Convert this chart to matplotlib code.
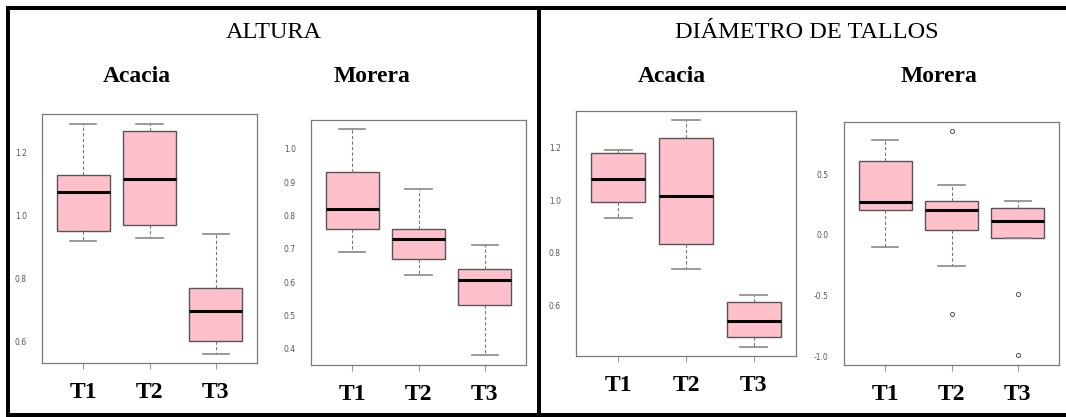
import matplotlib
matplotlib.use("Agg")
import matplotlib.pyplot as plt
from matplotlib.lines import Line2D

# ---------------- data (five-number summaries: low whisker, Q1, median, Q3, high whisker)
categories = ["T1", "T2", "T3"]

altura_acacia = [
    [0.92, 0.95, 1.075, 1.13, 1.29],
    [0.93, 0.97, 1.115, 1.27, 1.29],
    [0.56, 0.60, 0.695, 0.77, 0.94],
]
altura_acacia_fliers = [[], [], []]

altura_morera = [
    [0.69, 0.76, 0.82, 0.93, 1.06],
    [0.62, 0.67, 0.73, 0.76, 0.88],
    [0.38, 0.53, 0.605, 0.64, 0.71],
]
altura_morera_fliers = [[], [], []]

diam_acacia = [
    [0.93, 0.993, 1.081, 1.18, 1.192],
    [0.736, 0.833, 1.015, 1.237, 1.304],
    [0.441, 0.479, 0.540, 0.613, 0.640],
]
diam_acacia_fliers = [[], [], []]

diam_morera = [
    [-0.101, 0.200, 0.271, 0.611, 0.784],
    [-0.258, 0.041, 0.200, 0.282, 0.409],
    [-0.030, -0.030, 0.110, 0.219, 0.277],
]
diam_morera_fliers = [[], [0.858, -0.655], [-0.483, -0.987]]

altura_acacia_ticks = [0.6, 0.8, 1.0, 1.2]
altura_morera_ticks = [0.4, 0.5, 0.6, 0.7, 0.8, 0.9, 1.0]
diam_acacia_ticks = [0.6, 0.8, 1.0, 1.2]
diam_morera_ticks = [-1.0, -0.5, 0.0, 0.5]

section_titles = ["ALTURA", "DIÁMETRO DE TALLOS"]
species_titles = ["Acacia", "Morera", "Acacia", "Morera"]

# ---------------- figure
W, H = 1066, 417
fig = plt.figure(figsize=(W / 100, H / 100), dpi=100)
fig.patch.set_facecolor("white")


def px_axes(left, top, right, bottom):
    return fig.add_axes([left / W, 1 - bottom / H, (right - left) / W, (bottom - top) / H])


def fx(x):
    return x / W


def fy(y):
    return 1 - y / H


panels = [
    (altura_acacia, altura_acacia_fliers, altura_acacia_ticks, (42, 114, 257, 363), (0.531, 1.323)),
    (altura_morera, altura_morera_fliers, altura_morera_ticks, (311, 120, 526, 365), (0.351, 1.087)),
    (diam_acacia, diam_acacia_fliers, diam_acacia_ticks, (576, 111, 796, 356), (0.406, 1.339)),
    (diam_morera, diam_morera_fliers, diam_morera_ticks, (844, 122, 1059, 365), (-1.071, 0.928)),
]

pink = "#FFC0CB"
box_edge = "#555555"
spine_col = "#7a7a7a"

for summ, fliers, ticks, rect, ylim in panels:
    ax = px_axes(*rect)
    stats = []
    for name, s, fl in zip(categories, summ, fliers):
        stats.append(dict(label=name, whislo=s[0], q1=s[1], med=s[2], q3=s[3], whishi=s[4], fliers=fl))
    ax.bxp(
        stats,
        positions=[1, 2, 3],
        widths=0.8,
        patch_artist=True,
        showfliers=True,
        boxprops=dict(facecolor=pink, edgecolor=box_edge, linewidth=1.0),
        medianprops=dict(color="black", linewidth=2.2, solid_capstyle="butt"),
        whiskerprops=dict(color="#777777", linewidth=0.8, linestyle=(0, (3, 2))),
        capprops=dict(color="#888888", linewidth=1.2),
        capwidths=0.4,
        flierprops=dict(marker="o", markersize=3.0, markerfacecolor="white",
                        markeredgecolor="#555555", markeredgewidth=0.7, linestyle="none"),
    )
    ax.set_xlim(0.38, 3.62)
    ax.set_ylim(*ylim)
    ax.set_yticks(ticks)
    ax.set_yticklabels([f"{t:.1f}" for t in ticks])
    ax.set_xticks([1, 2, 3])
    ax.set_xticklabels(categories, fontfamily="Liberation Serif", fontweight="bold", fontsize=17)
    ax.tick_params(axis="x", length=4.5, width=0.8, color="#999999", pad=9)
    ax.tick_params(axis="y", length=0, labelsize=5.5, labelcolor="#555555", pad=11)
    for sp in ax.spines.values():
        sp.set_color(spine_col)
        sp.set_linewidth(0.9)
    ax.set_facecolor("white")

# ---------------- titles
fig.text(fx(274), fy(33), section_titles[0], ha="center", va="center",
         fontfamily="Liberation Serif", fontsize=17.5)
fig.text(fx(807), fy(33), section_titles[1], ha="center", va="center",
         fontfamily="Liberation Serif", fontsize=17.5)
species_x = [137, 372, 672, 939]
for sx, t in zip(species_x, species_titles):
    fig.text(fx(sx), fy(76), t, ha="center", va="center",
             fontfamily="Liberation Serif", fontweight="bold", fontsize=17)

# ---------------- frame lines
lw = 4 * 72 / 100
frame = [
    ((6, 1066), (8, 8)),      # top
    ((8, 8), (6, 417)),       # left
    ((6, 1066), (415, 415)),  # bottom
    ((539, 539), (8, 417)),   # middle divider
]
for xs, ys in frame:
    fig.add_artist(Line2D([fx(xs[0]), fx(xs[1])], [fy(ys[0]), fy(ys[1])],
                          color="black", linewidth=lw, solid_capstyle="butt"))

fig.savefig("out.png", dpi=100, facecolor="white")
